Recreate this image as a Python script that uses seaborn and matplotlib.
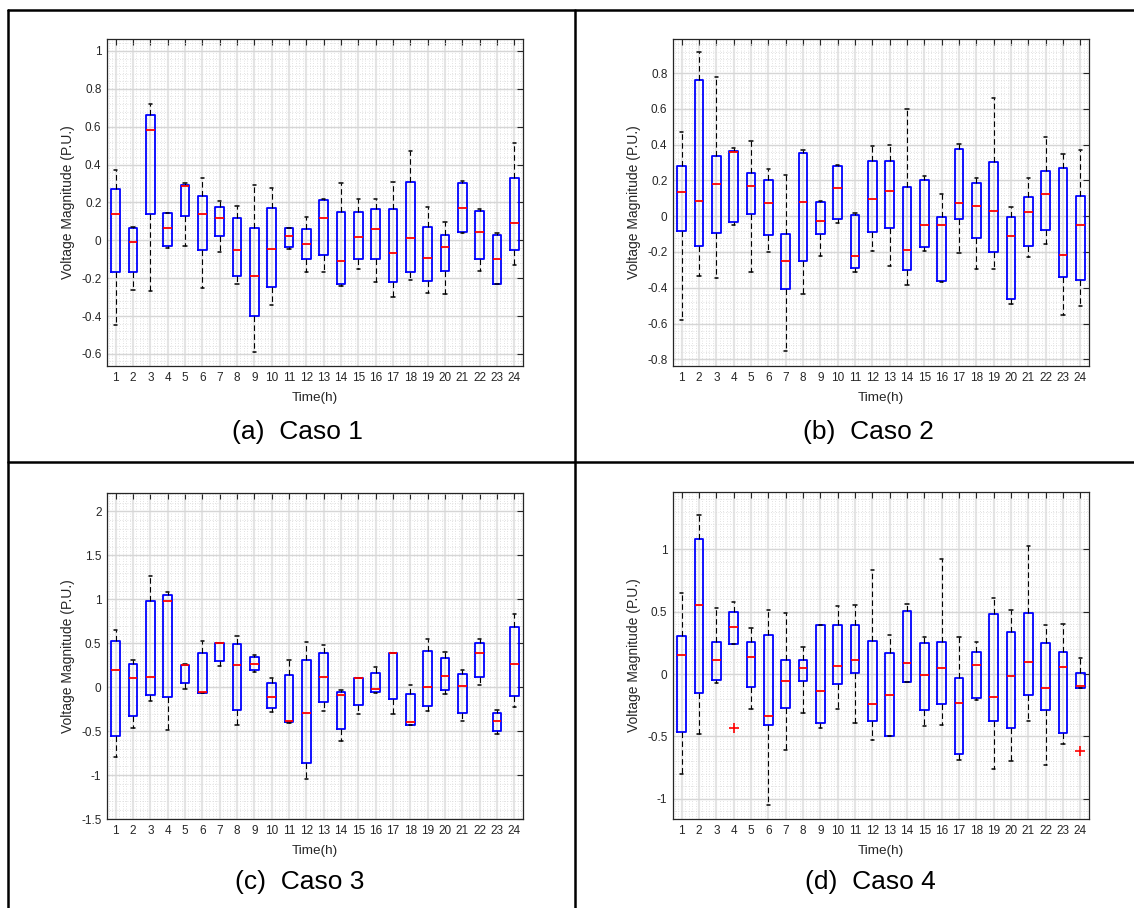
import numpy as np
import pandas as pd
import matplotlib
matplotlib.use("Agg")
import matplotlib.pyplot as plt
from matplotlib.lines import Line2D
from matplotlib.ticker import MultipleLocator, FuncFormatter
import seaborn as sns

# ---------------- data (five-number summaries) ----------------
hours = [str(h) for h in range(1, 25)]

# Caso 1
a_low  = [-0.45, -0.26, -0.27, -0.04, -0.03, -0.25, -0.06, -0.23, -0.59, -0.34, -0.045, -0.17,
          -0.17, -0.24, -0.15, -0.22, -0.30, -0.21, -0.28, -0.285, 0.04, -0.16, -0.23, -0.13]
a_q1   = [-0.17, -0.17, 0.14, -0.03, 0.13, -0.05, 0.02, -0.19, -0.40, -0.245, -0.035, -0.10,
          -0.08, -0.23, -0.10, -0.10, -0.22, -0.17, -0.215, -0.16, 0.045, -0.10, -0.23, -0.05]
a_med  = [0.14, -0.01, 0.58, 0.065, 0.285, 0.14, 0.12, -0.05, -0.19, -0.045, 0.02, -0.02,
          0.115, -0.11, 0.015, 0.06, -0.065, 0.01, -0.095, -0.035, 0.17, 0.045, -0.10, 0.09]
a_q3   = [0.27, 0.065, 0.66, 0.145, 0.29, 0.235, 0.175, 0.12, 0.065, 0.17, 0.065, 0.06,
          0.215, 0.15, 0.15, 0.165, 0.165, 0.31, 0.07, 0.03, 0.30, 0.155, 0.03, 0.33]
a_high = [0.37, 0.07, 0.72, 0.145, 0.30, 0.33, 0.21, 0.18, 0.29, 0.275, 0.065, 0.125,
          0.22, 0.305, 0.22, 0.22, 0.31, 0.47, 0.175, 0.095, 0.315, 0.165, 0.04, 0.515]

# Caso 2
b_low  = [-0.58, -0.335, -0.345, -0.05, -0.31, -0.20, -0.755, -0.435, -0.22, -0.04, -0.31, -0.195,
          -0.28, -0.385, -0.195, -0.365, -0.205, -0.295, -0.295, -0.49, -0.23, -0.155, -0.55, -0.50]
b_q1   = [-0.08, -0.165, -0.095, -0.035, 0.015, -0.105, -0.405, -0.25, -0.10, -0.015, -0.29, -0.09,
          -0.065, -0.30, -0.17, -0.36, -0.015, -0.12, -0.20, -0.465, -0.165, -0.075, -0.34, -0.355]
b_med  = [0.135, 0.085, 0.18, 0.36, 0.17, 0.075, -0.25, 0.08, -0.025, 0.16, -0.22, 0.095,
          0.14, -0.19, -0.05, -0.05, 0.075, 0.055, 0.03, -0.11, 0.025, 0.125, -0.215, -0.05]
b_q3   = [0.28, 0.76, 0.335, 0.365, 0.24, 0.205, -0.10, 0.355, 0.08, 0.28, 0.005, 0.31,
          0.31, 0.165, 0.20, -0.005, 0.375, 0.185, 0.305, -0.005, 0.11, 0.25, 0.27, 0.115]
b_high = [0.47, 0.915, 0.78, 0.38, 0.42, 0.265, 0.23, 0.37, 0.085, 0.285, 0.02, 0.39,
          0.395, 0.60, 0.225, 0.125, 0.405, 0.215, 0.66, 0.05, 0.215, 0.44, 0.35, 0.37]

# Caso 3
c_low  = [-0.80, -0.47, -0.155, -0.49, -0.025, -0.07, 0.24, -0.43, 0.175, -0.285, -0.405, -1.045,
          -0.27, -0.61, -0.31, -0.065, -0.31, -0.43, -0.275, -0.08, -0.39, 0.03, -0.535, -0.22]
c_q1   = [-0.56, -0.325, -0.09, -0.115, 0.045, -0.065, 0.30, -0.26, 0.19, -0.24, -0.40, -0.86,
          -0.17, -0.48, -0.205, -0.055, -0.135, -0.425, -0.21, -0.03, -0.29, 0.12, -0.495, -0.10]
c_med  = [0.19, 0.11, 0.12, 0.98, 0.255, -0.05, 0.50, 0.25, 0.26, -0.11, -0.385, -0.29,
          0.115, -0.09, 0.105, -0.015, 0.385, -0.40, 0.00, 0.13, 0.01, 0.39, -0.38, 0.26]
c_q3   = [0.53, 0.26, 0.985, 1.05, 0.255, 0.385, 0.50, 0.495, 0.34, 0.05, 0.14, 0.31,
          0.39, -0.05, 0.11, 0.16, 0.39, -0.08, 0.41, 0.33, 0.15, 0.505, -0.295, 0.69]
c_high = [0.65, 0.31, 1.27, 1.08, 0.26, 0.53, 0.50, 0.58, 0.365, 0.10, 0.315, 0.51,
          0.485, -0.035, 0.11, 0.225, 0.39, 0.03, 0.545, 0.395, 0.195, 0.55, -0.265, 0.835]

# Caso 4
d_low  = [-0.80, -0.48, -0.07, 0.24, -0.28, -1.05, -0.61, -0.31, -0.435, -0.28, -0.39, -0.53,
          -0.50, -0.065, -0.415, -0.41, -0.69, -0.21, -0.76, -0.70, -0.375, -0.73, -0.56, -0.11]
d_q1   = [-0.465, -0.15, -0.045, 0.24, -0.105, -0.41, -0.27, -0.06, -0.395, -0.08, 0.01, -0.375,
          -0.50, -0.065, -0.285, -0.24, -0.64, -0.195, -0.38, -0.43, -0.165, -0.29, -0.475, -0.11]
d_med  = [0.15, 0.555, 0.115, 0.375, 0.14, -0.335, -0.06, 0.05, -0.14, 0.065, 0.11, -0.24,
          -0.17, 0.09, -0.005, 0.05, -0.235, 0.075, -0.185, -0.015, 0.10, -0.11, 0.055, -0.10]
d_q3   = [0.305, 1.08, 0.255, 0.50, 0.255, 0.315, 0.115, 0.11, 0.39, 0.395, 0.39, 0.265,
          0.17, 0.505, 0.25, 0.255, -0.03, 0.175, 0.48, 0.34, 0.49, 0.25, 0.18, 0.005]
d_high = [0.65, 1.275, 0.53, 0.58, 0.37, 0.51, 0.49, 0.22, 0.39, 0.545, 0.55, 0.835,
          0.315, 0.565, 0.30, 0.92, 0.30, 0.26, 0.61, 0.51, 1.03, 0.39, 0.40, 0.125]
d_out_hours = ["4", "24"]
d_out_vals = [-0.43, -0.62]

captions = ["(a)  Caso 1", "(b)  Caso 2", "(c)  Caso 3", "(d)  Caso 4"]

# ---------------- style ----------------
sns.set_style("white")
plt.rcParams["font.family"] = ["Liberation Sans", "DejaVu Sans"]
plt.rcParams["axes.unicode_minus"] = False
TXT = "#262626"

W, H = 1134, 908
fig = plt.figure(figsize=(W / 100, H / 100), dpi=100)


def px_rect(l, t, r, b):
    return [l / W, 1 - b / H, (r - l) / W, (b - t) / H]


def fmt(v, pos):
    s = "%g" % round(v, 6)
    return "0" if s in ("-0", "0") else s


def draw_panel(rect, low, q1, med, q3, high, ylim, ystep, out_h=None, out_v=None):
    ax = fig.add_axes(rect)
    stats = np.column_stack([low, q1, med, q3, high])
    df = pd.DataFrame({"hour": np.repeat(hours, 5), "value": stats.ravel()})
    sns.boxplot(data=df, x="hour", y="value", order=hours, ax=ax,
                fill=False, color="blue", width=0.5, whis=(0, 100),
                showfliers=False, linewidth=1.3,
                boxprops=dict(color="blue", linewidth=1.3),
                medianprops=dict(color="red", linewidth=1.3),
                whiskerprops=dict(color="black", linewidth=0.8, linestyle=(0, (5, 3))),
                capprops=dict(color="black", linewidth=1.1),
                capwidths=0.2)
    if out_h is not None:
        sns.stripplot(x=out_h, y=out_v, order=hours, ax=ax, jitter=False,
                      marker="+", color="red", edgecolor="red", size=7, linewidth=1.2)
    ax.set_xlim(-0.5, 23.5)
    ax.set_ylim(*ylim)
    ax.yaxis.set_major_locator(MultipleLocator(ystep))
    ax.yaxis.set_major_formatter(FuncFormatter(fmt))
    ax.yaxis.set_minor_locator(MultipleLocator(ystep / 5))
    ax.xaxis.set_minor_locator(MultipleLocator(0.2))
    ax.set_axisbelow(True)
    ax.xaxis.grid(True, which="major", color="#e4e4e4", linewidth=1.6)
    ax.yaxis.grid(True, which="major", color="#d6d6d6", linewidth=1.0)
    ax.grid(True, which="minor", color="#d9d9d9", linestyle=(0, (1, 2)), linewidth=0.6)
    ax.tick_params(which="major", direction="in", top=True, right=True, length=4,
                   width=0.8, labelsize=8.5, colors=TXT, pad=4)
    ax.tick_params(which="minor", length=0)
    for s in ax.spines.values():
        s.set_color(TXT)
        s.set_linewidth(0.9)
        s.set_visible(True)
    ax.set_xlabel("Time(h)", fontsize=9.7, color=TXT)
    ax.set_ylabel("Voltage Magnitude (P.U.)", fontsize=10, color=TXT)
    ax.xaxis.set_label_coords(0.5, -0.079)
    ax.yaxis.set_label_coords(-0.077, 0.5)
    return ax


draw_panel(px_rect(107, 39, 523, 366), a_low, a_q1, a_med, a_q3, a_high, (-0.664, 1.063), 0.2)
draw_panel(px_rect(673, 39, 1089, 366), b_low, b_q1, b_med, b_q3, b_high, (-0.837, 0.99), 0.2)
draw_panel(px_rect(107, 493, 523, 819), c_low, c_q1, c_med, c_q3, c_high, (-1.5, 2.21), 0.5)
draw_panel(px_rect(673, 492, 1089, 819), d_low, d_q1, d_med, d_q3, d_high, (-1.163, 1.46), 0.5,
           d_out_hours, d_out_vals)

# captions
cap_pos = [(297, 432), (868, 432), (300, 882), (870, 882)]
for txt, (x, y) in zip(captions, cap_pos):
    fig.text(x / W, 1 - y / H, txt, ha="center", va="center", fontsize=19, color="black")

# table borders
lw = 1.8
fig.add_artist(Line2D([8 / W, 1], [1 - 10 / H, 1 - 10 / H], color="black", lw=lw))
fig.add_artist(Line2D([8 / W, 8 / W], [0, 1 - 10 / H], color="black", lw=lw))
fig.add_artist(Line2D([575 / W, 575 / W], [0, 1 - 10 / H], color="black", lw=lw))
fig.add_artist(Line2D([8 / W, 1], [1 - 462 / H, 1 - 462 / H], color="black", lw=lw))

fig.savefig("out.png", dpi=100, facecolor="white")
